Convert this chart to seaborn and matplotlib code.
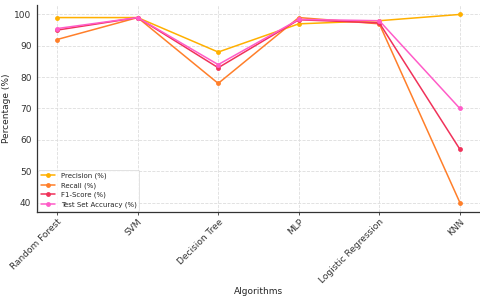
import pandas as pd
import matplotlib
matplotlib.use("Agg")
import matplotlib.pyplot as plt
import seaborn as sns

algorithms = ["Random Forest", "SVM", "Decision Tree", "MLP", "Logistic Regression", "KNN"]
precision = [99, 99, 88, 97, 98, 100]
recall = [92, 99, 78, 99, 97, 40]
f1_score = [95, 99, 83, 98.3, 97.3, 57]
test_acc = [95.5, 99, 84, 98.4, 98, 70]

series = {
    "Precision (%)": precision,
    "Recall (%)": recall,
    "F1-Score (%)": f1_score,
    "Test Set Accuracy (%)": test_acc,
}
colors = ["#FFB000", "#FF7F2A", "#F0325A", "#FF5CC8"]

rows = []
for name, vals in series.items():
    for alg, v in zip(algorithms, vals):
        rows.append({"Algorithms": alg, "Metric": name, "Value": v})
df = pd.DataFrame(rows)

sns.set_style("whitegrid", {"grid.linestyle": "--", "grid.color": "#dddddd"})
plt.rcParams["font.family"] = ["DejaVu Sans"]

fig = plt.figure(figsize=(4.8, 2.96), dpi=100)
ax = fig.add_axes([0.077, 0.284, 0.923, 0.699])

sns.lineplot(data=df, x="Algorithms", y="Value", hue="Metric", palette=colors,
             marker="o", markersize=3.5, markeredgewidth=0, linewidth=1.1,
             sort=False, ax=ax)

ax.set_xlabel("Algorithms", fontsize=6.5, labelpad=1)
ax.set_ylabel("Percentage (%)", fontsize=6.5, labelpad=2)
ax.tick_params(axis="both", labelsize=6.5, length=2, width=0.6, colors="#333333", pad=2)
ax.tick_params(axis="x", bottom=True)
plt.setp(ax.get_xticklabels(), rotation=45, ha="right", rotation_mode="anchor")
ax.set_yticks([40, 50, 60, 70, 80, 90, 100])
ax.grid(True, linewidth=0.6)
for s in ["top", "right"]:
    ax.spines[s].set_visible(False)
for s in ["left", "bottom"]:
    ax.spines[s].set_color("#333333")
    ax.spines[s].set_linewidth(0.9)

leg = ax.legend(loc="lower left", fontsize=5, frameon=True, borderpad=0.4,
                handlelength=2.0, labelspacing=0.45, borderaxespad=0.2)
leg.get_frame().set_linewidth(0.5)

fig.savefig("out.png", dpi=100)
